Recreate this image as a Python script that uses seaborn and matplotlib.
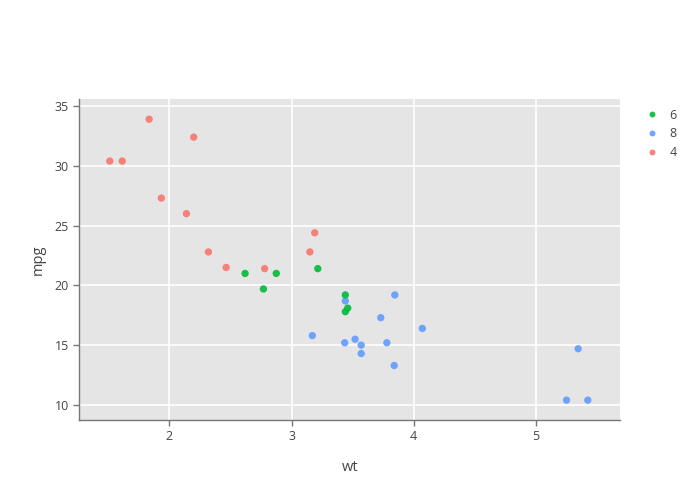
import pandas as pd
import matplotlib
matplotlib.use("Agg")
import matplotlib.pyplot as plt
import seaborn as sns

# mtcars: weight, mpg, cylinders
wt = [2.620, 2.875, 2.320, 3.215, 3.440, 3.460, 3.570, 3.190, 3.150, 3.440, 3.440,
      4.070, 3.730, 3.780, 5.250, 5.424, 5.345, 2.200, 1.615, 1.835, 2.465, 3.520,
      3.435, 3.840, 3.845, 1.935, 2.140, 1.513, 3.170, 2.770, 3.570, 2.780]
mpg = [21.0, 21.0, 22.8, 21.4, 18.7, 18.1, 14.3, 24.4, 22.8, 19.2, 17.8,
       16.4, 17.3, 15.2, 10.4, 10.4, 14.7, 32.4, 30.4, 33.9, 21.5, 15.5,
       15.2, 13.3, 19.2, 27.3, 26.0, 30.4, 15.8, 19.7, 15.0, 21.4]
cyl = [6, 6, 4, 6, 8, 6, 8, 4, 4, 6, 6,
       8, 8, 8, 8, 8, 8, 4, 4, 4, 4, 8,
       8, 8, 8, 4, 4, 4, 8, 6, 8, 4]
cyl_order = ["6", "8", "4"]
cyl_colors = ["#00BA38", "#619CFF", "#F8766D"]

df = pd.DataFrame({"wt": wt, "mpg": mpg, "cyl": [str(c) for c in cyl]})

sns.set_style("darkgrid", {"axes.facecolor": "#e5e5e5", "grid.color": "white"})
plt.rcParams["font.family"] = ["Open Sans", "DejaVu Sans"]

fig = plt.figure(figsize=(7, 5), dpi=100)
ax = fig.add_axes([0.113, 0.16, 0.773, 0.642])

sns.scatterplot(data=df, x="wt", y="mpg", hue="cyl", hue_order=cyl_order,
                palette=cyl_colors, s=28, linewidth=0, alpha=0.9, ax=ax)

ax.set_xlim(1.262, 5.689)
ax.set_ylim(8.74, 35.59)
ax.set_xticks([2, 3, 4, 5])
ax.set_yticks([10, 15, 20, 25, 30, 35])
ax.grid(True, color="white", linewidth=1.2)
ax.set_axisbelow(True)

for side in ["top", "right"]:
    ax.spines[side].set_visible(False)
for side in ["left", "bottom"]:
    ax.spines[side].set_visible(True)
    ax.spines[side].set_color("#777777")
    ax.spines[side].set_linewidth(1)

ax.tick_params(axis="both", colors="#777777", labelcolor="#444444", labelsize=9,
               length=4, width=1, direction="out", left=True, bottom=True)
ax.set_xlabel("wt", fontsize=10.5, color="#444444", labelpad=12)
ax.set_ylabel("mpg", fontsize=10.5, color="#444444", labelpad=6)

handles, labels = ax.get_legend_handles_labels()
ax.legend(handles, labels, loc="upper left", bbox_to_anchor=(1.015, 1.005),
          frameon=False, fontsize=9, labelcolor="#444444", handletextpad=0.4,
          markerscale=0.8, labelspacing=0.45)

fig.savefig("out.png", dpi=100)
